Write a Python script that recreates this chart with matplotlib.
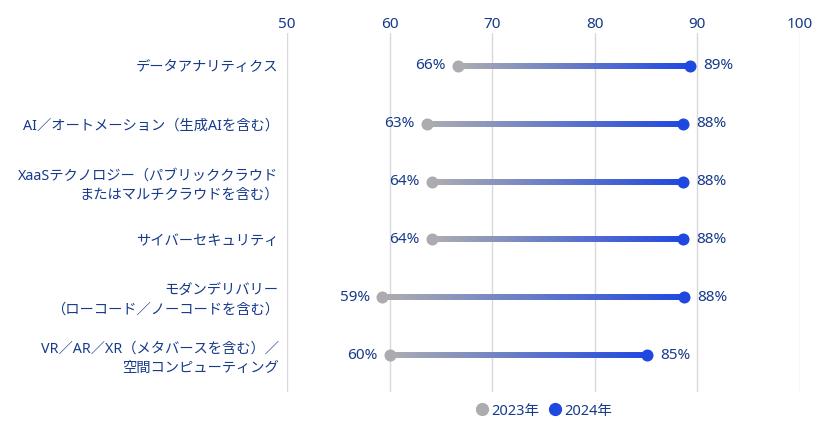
import numpy as np
import matplotlib
matplotlib.use('Agg')
import matplotlib.pyplot as plt
from matplotlib.collections import LineCollection
from matplotlib.lines import Line2D

plt.rcParams['font.family'] = ['Noto Sans', 'Noto Sans CJK JP', 'DejaVu Sans']

categories = [
    'データアナリティクス',
    'AI／オートメーション（生成AIを含む）',
    'XaaSテクノロジー（パブリッククラウド\nまたはマルチクラウドを含む）',
    'サイバーセキュリティ',
    'モダンデリバリー\n（ローコード／ノーコードを含む）',
    'VR／AR／XR（メタバースを含む）／\n空間コンピューティング',
]
v2023 = [66.7, 63.6, 64.1, 64.1, 59.3, 60.0]
v2024 = [89.3, 88.6, 88.6, 88.6, 88.7, 85.1]
lab2023 = ['66%', '63%', '64%', '64%', '59%', '60%']
lab2024 = ['89%', '88%', '88%', '88%', '88%', '85%']
xticks = [50, 60, 70, 80, 90, 100]

navy = '#173a8a'
gray = '#acacb0'
blue = '#1f48e0'

fig = plt.figure(figsize=(8.2, 4.32), dpi=100)
ax = fig.add_axes([287/820, 1-392/432, (800-287)/820, (392-33)/432])

ypos = np.arange(len(categories))
c0 = np.array(matplotlib.colors.to_rgb(gray))
c1 = np.array(matplotlib.colors.to_rgb(blue))
n = 100
for y, a, b in zip(ypos, v2023, v2024):
    xs = np.linspace(a, b, n + 1)
    segs = [[(xs[i], y), (xs[i+1], y)] for i in range(n)]
    t = np.linspace(0, 1, n)[:, None]
    cols = c0 * (1 - t) + c1 * t
    lc = LineCollection(segs, colors=cols, linewidths=4.3, capstyle='butt', zorder=2)
    ax.add_collection(lc)
ax.scatter(v2023, ypos, s=75, color=gray, zorder=3, linewidths=0)
ax.scatter(v2024, ypos, s=75, color=blue, zorder=3, linewidths=0)

for y, a, b, la, lb in zip(ypos, v2023, v2024, lab2023, lab2024):
    ax.annotate(la, (a, y), xytext=(-9, 0), textcoords='offset points',
                ha='right', va='center', color=navy, fontsize=11)
    ax.annotate(lb, (b, y), xytext=(9.5, 0), textcoords='offset points',
                ha='left', va='center', color=navy, fontsize=11)

ax.set_xlim(50, 100)
ax.set_ylim(5.64, -0.57)
ax.set_xticks(xticks)
ax.xaxis.tick_top()
ax.tick_params(axis='x', length=0, pad=1, labelsize=11, labelcolor=navy)
ax.set_yticks(ypos)
ax.set_yticklabels(categories, fontsize=10.3, color=navy, linespacing=1.35)
ax.tick_params(axis='y', length=0, pad=6)
ax.grid(axis='x', color='#d9d9dc', linewidth=1)
ax.set_axisbelow(True)
for s in ax.spines.values():
    s.set_visible(False)

handles = [Line2D([], [], marker='o', linestyle='none', color=gray, markersize=8.5),
           Line2D([], [], marker='o', linestyle='none', color=blue, markersize=8.5)]
leg = fig.legend(handles, ['2023年', '2024年'], loc='center', ncol=2,
                 bbox_to_anchor=(543.5/820, 1-411/432), frameon=False,
                 handletextpad=0.1, columnspacing=0.6, fontsize=10.5,
                 handlelength=1.0)
for t in leg.get_texts():
    t.set_color(navy)

fig.savefig('out.png', dpi=100)
